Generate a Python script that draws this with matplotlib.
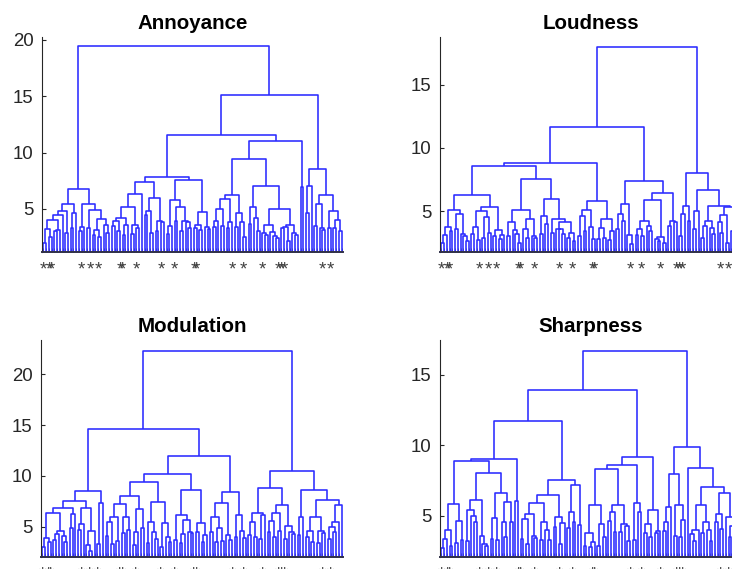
import matplotlib
matplotlib.use("Agg")
import matplotlib.pyplot as plt
from matplotlib.collections import LineCollection

plt.rcParams['font.family'] = ['Liberation Sans', 'DejaVu Sans']

# Linkage height between consecutive leaves (leaf k and leaf k+1), in leaf order.
annoyance_merge = [
    1.95, 3.2, 2.55, 4.0, 3.0, 3.1, 4.5, 4.85, 2.9, 5.44, 3.3, 4.6, 6.75,
    3.0, 3.4, 5.4, 3.3, 4.9, 2.7, 3.1, 2.5, 4.1, 3.6, 2.9, 19.44,
    3.5, 3.9, 3.0, 4.2, 2.7, 3.6, 5.15, 2.8, 3.55, 3.3, 6.33, 7.35,
    4.5, 4.85, 2.9, 6.0, 3.0, 3.95, 3.85, 7.8,
    2.8, 3.45, 5.8, 3.9, 5.15, 3.0, 3.9, 3.85, 3.3, 7.6,
    3.3, 3.6, 3.1, 4.7, 3.4, 3.2, 11.6,
    3.4, 3.9, 5.0, 3.5, 5.85, 3.3, 3.8, 6.25, 3.4, 4.65, 3.8, 2.5, 9.4,
    3.7, 5.2, 4.2, 3.0, 7.0,
    2.9, 2.7, 3.55, 2.95, 2.6, 2.4, 5.0, 3.3, 3.4, 2.2, 3.6, 2.85, 2.7, 11.05,
    6.98, 15.12,
    4.6, 7.0, 8.55, 3.5, 5.45, 3.3, 3.1, 6.2, 3.35, 4.8, 3.3, 4.0, 3.0,
]

loudness_merge = [
    2.45, 3.1, 3.7, 3.45, 5.1, 3.55, 4.8, 3.2, 3.0, 2.6, 6.26,
    3.2, 3.76, 2.7, 5.0, 2.9, 4.5, 3.3, 5.35, 3.0, 3.5, 2.8, 3.1, 8.55,
    3.0, 4.1, 3.5, 3.2, 2.5, 5.1, 3.6, 2.9, 4.4, 3.0, 2.9, 7.5,
    3.2, 4.6, 4.0, 5.95, 3.3, 4.4, 3.6, 3.55, 3.2, 4.1, 2.9, 3.3, 2.6, 8.82,
    3.0, 4.6, 3.4, 5.1, 3.7, 2.8, 5.8,
    2.8, 3.63, 2.9, 4.4, 2.7, 3.45, 11.63,
    3.6, 4.76, 4.2, 5.55, 3.1, 2.4, 7.4,
    3.1, 3.55, 3.0, 4.24, 3.8, 3.4, 5.87, 2.8, 2.6, 2.97, 2.5, 6.45,
    3.8, 4.24, 4.1, 18.0,
    3.0, 4.8, 5.4, 4.2, 7.97,
    3.6, 5.0, 6.7,
    2.9, 3.8, 4.24, 3.65, 3.2, 5.4, 4.1, 3.3, 4.7, 2.5, 5.35, 3.4, 4.0, 3.0,
]

modulation_merge = [
    2.95, 3.85, 3.5, 6.38, 3.7, 4.3, 4.55, 4.1, 3.5, 6.8, 4.9, 6.2, 7.53,
    4.7, 5.3, 6.87, 3.2, 2.6, 4.6, 8.55, 3.26, 7.3, 14.59,
    4.1, 5.45, 3.3, 5.98, 3.6, 7.23, 4.4, 5.9, 4.65, 8.02,
    3.2, 4.45, 6.7, 4.85, 9.43,
    3.4, 5.5, 4.45, 3.8, 7.46, 3.0, 5.4, 4.0, 3.5, 10.15,
    3.7, 6.15, 3.4, 4.25, 5.66, 4.5, 4.35, 8.6, 4.5, 5.35, 3.5, 4.2, 11.99,
    4.5, 5.9, 3.5, 4.85, 3.55, 7.36, 4.2, 3.7, 8.38,
    4.0, 6.15, 4.6, 3.9, 22.33,
    4.2, 5.5, 4.0, 6.3, 3.8, 6.15, 8.78,
    4.5, 5.6, 4.0, 6.38, 4.6, 7.13, 3.8, 5.1, 4.5, 4.3, 10.48,
    4.2, 5.9, 8.6,
    4.0, 4.6, 3.5, 5.9, 3.4, 4.6, 4.35, 7.63, 3.8, 4.95, 4.5, 5.45, 7.13,
]

sharpness_merge = [
    2.75, 3.4, 4.0, 2.9, 5.85, 3.1, 4.65, 3.3, 8.9,
    3.2, 5.45, 5.0, 4.6, 6.13, 3.55, 3.0, 2.9, 8.07,
    3.4, 4.88, 3.3, 6.65, 4.55, 3.5, 5.97, 4.6, 9.04, 6.06, 11.71,
    3.4, 4.75, 3.0, 5.17, 3.6, 3.45, 5.9, 3.3, 4.55, 4.0, 3.3, 6.49,
    4.2, 4.95, 3.0, 4.5, 7.53, 4.15, 5.3, 4.55, 7.2, 4.36, 13.96,
    2.9, 3.77, 2.8, 3.18, 5.78, 2.9, 4.4, 3.5, 8.33,
    4.65, 5.3, 3.85, 5.75, 3.85, 4.43, 4.3, 3.2, 8.62,
    3.3, 5.95, 5.3, 9.18,
    3.8, 4.4, 3.5, 5.4, 3.8, 3.9, 16.73,
    3.9, 4.55, 5.66, 7.95, 3.6, 5.78, 3.5, 4.72, 9.89,
    8.43, 3.7, 3.2, 4.0, 5.78, 3.8, 4.55, 4.0, 3.2, 7.03,
    4.6, 5.15, 4.1, 6.6, 4.95, 3.5, 4.3, 3.6, 3.9,
]

titles = ["Annoyance", "Loudness", "Modulation", "Sharpness"]
merges = [annoyance_merge, loudness_merge, modulation_merge, sharpness_merge]
y_ticks = [[5, 10, 15, 20], [5, 10, 15], [5, 10, 15, 20], [5, 10, 15]]
y_limits = [(1.18, 20.26), (1.76, 18.76), (2.01, 23.38), (2.09, 17.48)]

# Leaves carrying a '*' label
marked_leaves = [1, 3, 4, 15, 18, 21, 29, 30, 35, 44, 49, 56, 57,
                 70, 74, 81, 87, 88, 89, 103, 106]

W, H = 732, 569
# axes boxes in pixels: left, top, width, height
boxes = [(42, 37, 301, 215), (440, 37, 301, 215),
         (41, 340, 302, 217), (440, 340, 301, 217)]

LINE = '#2b2bff'
INK = '#262626'


def build(gaps, lo, hi, segs):
    """Recursively lay out leaves lo..hi; returns (x, height) of the node."""
    if lo == hi:
        return float(lo), 0.0
    sub = gaps[lo - 1:hi - 1]
    j = max(range(len(sub)), key=lambda t: sub[t])
    k = lo + j
    h = sub[j]
    xl, hl = build(gaps, lo, k, segs)
    xr, hr = build(gaps, k + 1, hi, segs)
    segs.append([(xl, hl), (xl, h), (xr, h), (xr, hr)])
    return (xl + xr) / 2.0, h


fig = plt.figure(figsize=(W / 100, H / 100), dpi=100)

for title, gaps, yt, yl, (l, t, w, h) in zip(titles, merges, y_ticks, y_limits, boxes):
    ax = fig.add_axes([l / W, 1 - (t + h) / H, w / W, h / H])
    n = len(gaps) + 1
    segs = []
    build(gaps, 1, n, segs)
    ax.add_collection(LineCollection(segs, colors=LINE, linewidths=1.15))
    ax.set_xlim(0.5, n + 0.5)
    ax.set_ylim(*yl)

    for s in ('top', 'right'):
        ax.spines[s].set_visible(False)
    ax.spines['left'].set_color(INK)
    ax.spines['left'].set_linewidth(0.8)
    ax.spines['bottom'].set_color('#303048')
    ax.spines['bottom'].set_linewidth(1.4)

    ax.set_yticks(yt)
    ax.set_yticklabels([str(v) for v in yt])
    leaves = list(range(1, n + 1))
    ax.set_xticks(leaves)
    ax.set_xticklabels(['*' if i in marked_leaves else '' for i in leaves])

    ax.tick_params(axis='y', direction='in', length=3, width=0.8, colors=INK,
                   labelsize=13.4, pad=6)
    ax.tick_params(axis='x', direction='in', length=3, width=0.6, colors='#404040',
                   labelsize=13.4, pad=6.5)
    ax.set_title(title, fontsize=14.8, fontweight='bold', color='black', pad=5.5)

fig.savefig('out.png', dpi=100)
